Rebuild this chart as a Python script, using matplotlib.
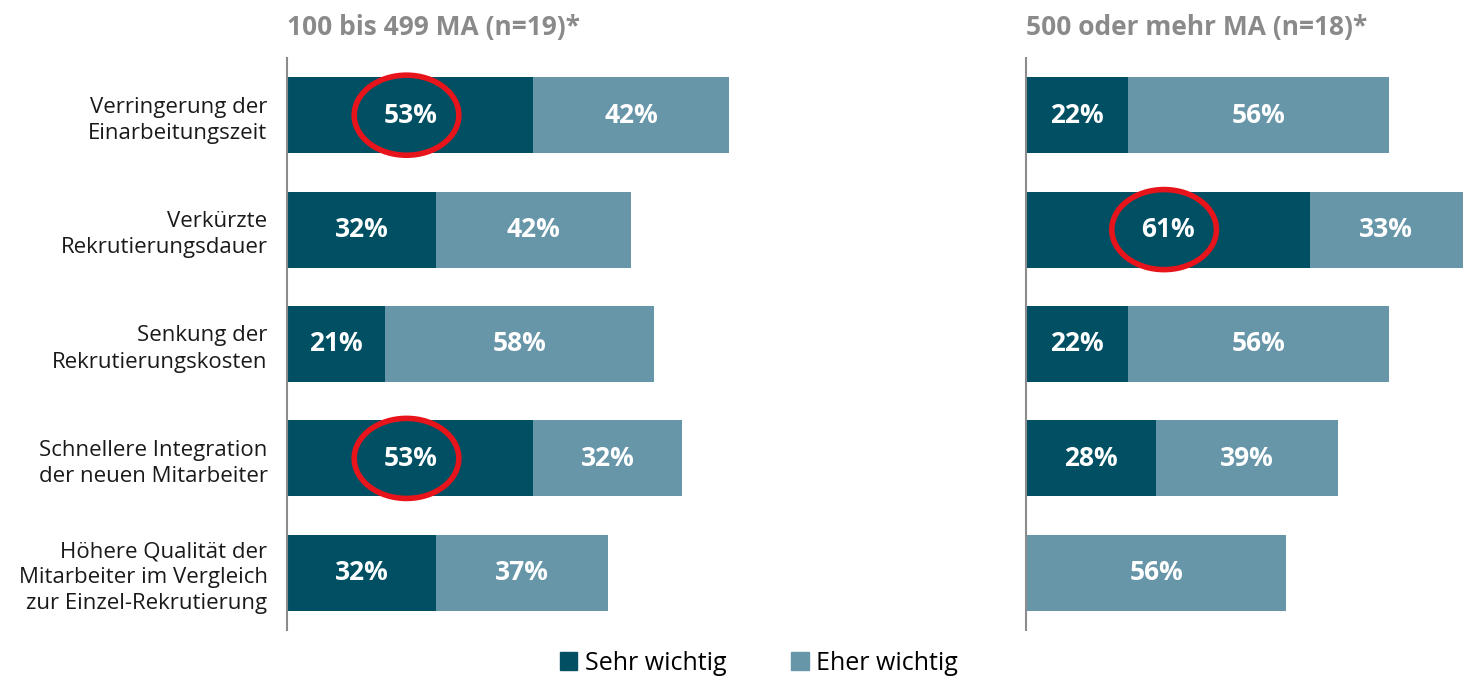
import matplotlib.pyplot as plt
from matplotlib.patches import Ellipse, Patch

plt.rcParams['font.family'] = ['Open Sans', 'DejaVu Sans']

categories = [
    "Verringerung der\nEinarbeitungszeit",
    "Verkürzte\nRekrutierungsdauer",
    "Senkung der\nRekrutierungskosten",
    "Schnellere Integration\nder neuen Mitarbeiter",
    "Höhere Qualität der\nMitarbeiter im Vergleich\nzur Einzel-Rekrutierung",
]
panel_titles = ["100 bis 499 MA (n=19)*", "500 oder mehr MA (n=18)*"]
sehr_small = [53, 32, 21, 53, 32]
eher_small = [42, 42, 58, 32, 37]
sehr_large = [22, 61, 22, 28, 0]
eher_large = [56, 33, 56, 39, 56]
# (panel, row) of the circled values
highlights = [(0, 0), (0, 3), (1, 1)]

dark = '#004F62'
light = '#6896A9'

fig = plt.figure(figsize=(14.7, 6.81), dpi=100)
W, H = 1470, 681
px_per_pct = 4.65
axes = []
for left in [287, 1026]:
    ax = fig.add_axes([left / W, 51 / H, 100 * px_per_pct / W, 572 / H])
    axes.append(ax)

data = [(sehr_small, eher_small), (sehr_large, eher_large)]
rows = list(range(len(categories)))
for i, ax in enumerate(axes):
    sehr, eher = data[i]
    ax.barh(rows, sehr, height=0.665, color=dark)
    ax.barh(rows, eher, left=sehr, height=0.665, color=light)
    for r in rows:
        if sehr[r] > 0:
            ax.text(sehr[r] / 2, r, f"{sehr[r]}%", ha='center', va='center',
                    color='white', fontsize=19, fontweight='bold')
        if eher[r] > 0:
            ax.text(sehr[r] + eher[r] / 2, r, f"{eher[r]}%", ha='center', va='center',
                    color='white', fontsize=19, fontweight='bold')
    ax.set_xlim(0, 100)
    ax.set_ylim(4.5, -0.5)
    for s in ['top', 'right', 'bottom']:
        ax.spines[s].set_visible(False)
    ax.spines['left'].set_color('#8c8c8c')
    ax.spines['left'].set_linewidth(1.5)
    ax.set_xticks([])
    ax.set_yticks(rows)
    ax.tick_params(axis='y', length=0, pad=14)
    if i == 0:
        ax.set_yticklabels(categories, fontsize=16, color='#1a1a1a', linespacing=1.32)
    else:
        ax.set_yticklabels([])
    ax.text(0, 1.053, panel_titles[i], transform=ax.transAxes, ha='left', va='center',
            fontsize=19, fontweight='bold', color='#8a8a8a')

for p, r in highlights:
    ax = axes[p]
    sehr = data[p][0]
    ax.add_patch(Ellipse((sehr[r] / 2 - 0.8, r), width=22.5, height=0.7, fill=False,
                         edgecolor='#E8141B', linewidth=4, zorder=5, clip_on=False))

handles = [Patch(color=dark, label='Sehr wichtig'), Patch(color=light, label='Eher wichtig')]
fig.legend(handles=handles, loc='center', bbox_to_anchor=(759 / W, 1 - 663 / H), ncol=2,
           frameon=False, fontsize=18, handlelength=0.7, handleheight=0.7,
           handletextpad=0.3, columnspacing=2.6)

fig.savefig('out.png', dpi=100)
